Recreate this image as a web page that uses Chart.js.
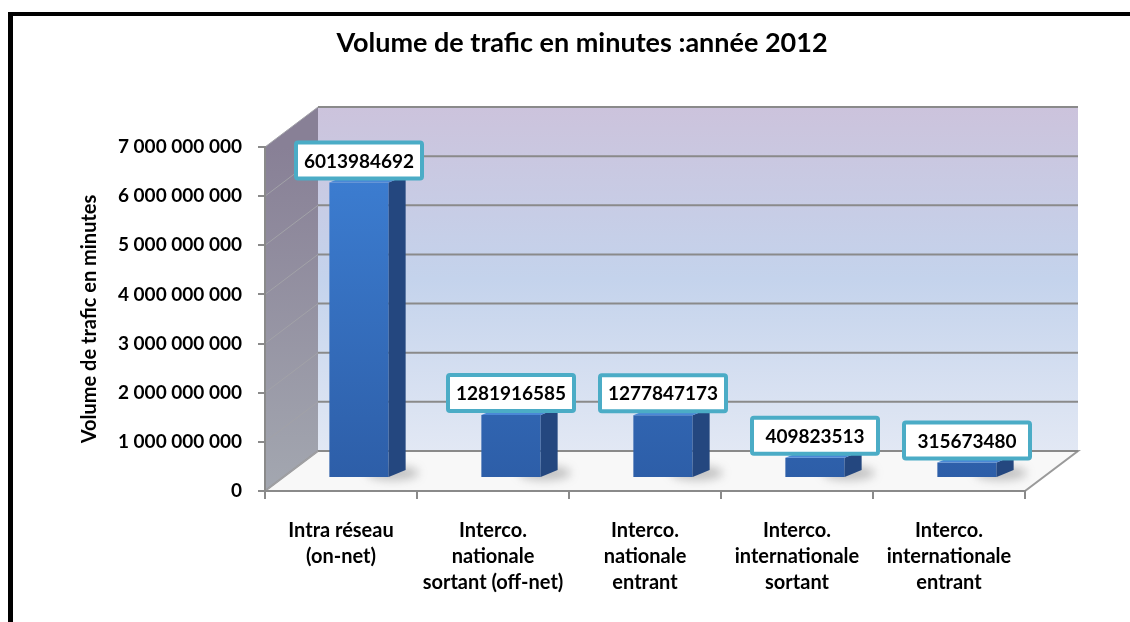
<!DOCTYPE html>
<html>
<head>
<meta charset="utf-8">
<script src="https://cdn.jsdelivr.net/npm/chart.js@4"></script>
<style>
  body { margin: 0; background: #fff; }
  #wrap { position: relative; width: 1130px; height: 622px; }
  #frame { position: absolute; left: 8px; top: 12px; right: 0; bottom: 0;
           border-left: 5px solid #000; border-top: 4px solid #000; pointer-events: none; }
</style>
</head>
<body>
<div id="wrap">
  <canvas id="trafficChart" width="1130" height="622"></canvas>
  <div id="frame"></div>
</div>
<script>
// Data
const categories = [
    ['Intra réseau', '(on-net)'],
    ['Interco.', 'nationale', 'sortant (off-net)'],
    ['Interco.', 'nationale', 'entrant'],
    ['Interco.', 'internationale', 'sortant'],
    ['Interco.', 'internationale', 'entrant']
];
const minutes = [6013984692, 1281916585, 1277847173, 409823513, 315673480];
const yTicks = [0, 1000000000, 2000000000, 3000000000, 4000000000, 5000000000, 6000000000, 7000000000];

const FONT = 'Lato, "Open Sans", sans-serif';
// depth of the 3D box (back wall offset) and of the bars
const DEPTH_X = 53, DEPTH_Y = -40;
const BAR_X = 18, BAR_Y = -13;
const SIDE_X = 17, SIDE_Y = -7;

function spaced(n) {
    return String(n).replace(/\B(?=(\d{3})+(?!\d))/g, ' ');
}

// back wall, side wall, floor and gridlines
const box3d = {
    id: 'box3d',
    beforeDraw(chart) {
        const { ctx, chartArea: a, scales: { y } } = chart;
        const top = y.getPixelForValue(yTicks[yTicks.length - 1]);
        const bot = y.getPixelForValue(0);
        ctx.save();

        // back wall
        let g = ctx.createLinearGradient(0, top + DEPTH_Y, 0, bot + DEPTH_Y);
        g.addColorStop(0, '#ccc3dc');
        g.addColorStop(0.5, '#c4d3ec');
        g.addColorStop(1, '#e2e8f4');
        ctx.fillStyle = g;
        ctx.fillRect(a.left + DEPTH_X, top + DEPTH_Y, a.right - a.left, bot - top);

        // left side wall
        g = ctx.createLinearGradient(0, top, 0, bot);
        g.addColorStop(0, '#888096');
        g.addColorStop(1, '#a3a7b0');
        ctx.fillStyle = g;
        ctx.beginPath();
        ctx.moveTo(a.left, bot);
        ctx.lineTo(a.left, top);
        ctx.lineTo(a.left + DEPTH_X, top + DEPTH_Y);
        ctx.lineTo(a.left + DEPTH_X, bot + DEPTH_Y);
        ctx.closePath();
        ctx.fill();

        // floor
        ctx.fillStyle = '#f8f8f8';
        ctx.strokeStyle = '#9a9a9a';
        ctx.lineWidth = 2;
        ctx.beginPath();
        ctx.moveTo(a.left, bot);
        ctx.lineTo(a.right, bot);
        ctx.lineTo(a.right + DEPTH_X, bot + DEPTH_Y);
        ctx.lineTo(a.left + DEPTH_X, bot + DEPTH_Y);
        ctx.closePath();
        ctx.fill();
        ctx.stroke();

        // gridlines
        yTicks.forEach(v => {
            const py = y.getPixelForValue(v);
            ctx.strokeStyle = '#a2a2a8';
            ctx.lineWidth = 1;
            ctx.beginPath();
            ctx.moveTo(a.left, py);
            ctx.lineTo(a.left + DEPTH_X, py + DEPTH_Y);
            ctx.stroke();
            ctx.strokeStyle = '#8a8a8a';
            ctx.lineWidth = 2;
            ctx.beginPath();
            ctx.moveTo(a.left + DEPTH_X, py + DEPTH_Y);
            ctx.lineTo(a.right + DEPTH_X, py + DEPTH_Y);
            ctx.stroke();
        });
        ctx.restore();
    },
    beforeDatasetsDraw(chart) {
        const ctx = chart.ctx;
        ctx.save();
        ctx.translate(BAR_X, BAR_Y);
        // soft shadow of each bar on the floor
        ctx.save();
        ctx.filter = 'blur(5px)';
        ctx.fillStyle = 'rgba(90, 90, 90, 0.35)';
        chart.getDatasetMeta(0).data.forEach(bar => {
            const right = bar.x + bar.width / 2;
            ctx.beginPath();
            ctx.ellipse(right + 4, bar.base - 4, 26, 7, 0, 0, Math.PI * 2);
            ctx.fill();
        });
        ctx.restore();
    },
    afterDatasetsDraw(chart) {
        const ctx = chart.ctx;
        const bars = chart.getDatasetMeta(0).data;
        bars.forEach(bar => {
            const left = bar.x - bar.width / 2, right = bar.x + bar.width / 2;
            // side face
            ctx.fillStyle = '#24477f';
            ctx.beginPath();
            ctx.moveTo(right, bar.y);
            ctx.lineTo(right + SIDE_X, bar.y + SIDE_Y);
            ctx.lineTo(right + SIDE_X, bar.base + SIDE_Y);
            ctx.lineTo(right, bar.base);
            ctx.closePath();
            ctx.fill();
            // top face
            ctx.fillStyle = '#4a88d6';
            ctx.beginPath();
            ctx.moveTo(left, bar.y);
            ctx.lineTo(left + SIDE_X, bar.y + SIDE_Y);
            ctx.lineTo(right + SIDE_X, bar.y + SIDE_Y);
            ctx.lineTo(right, bar.y);
            ctx.closePath();
            ctx.fill();
        });
        ctx.restore();

        // value labels in framed boxes
        ctx.save();
        ctx.font = 'bold 19px ' + FONT;
        ctx.textAlign = 'center';
        ctx.textBaseline = 'middle';
        bars.forEach((bar, i) => {
            const cx = bar.x + BAR_X;
            const bottom = bar.y + BAR_Y - 4;
            const w = 126, h = 36;
            ctx.fillStyle = '#fff';
            ctx.strokeStyle = '#4bacc6';
            ctx.lineWidth = 4;
            ctx.beginPath();
            ctx.roundRect(cx - w / 2, bottom - h, w, h, 2);
            ctx.fill();
            ctx.stroke();
            ctx.fillStyle = '#000';
            ctx.fillText(String(minutes[i]), cx, bottom - h / 2 + 1);
        });
        ctx.restore();
    }
};

const trafficChart = new Chart(document.getElementById('trafficChart'), {
    type: 'bar',
    data: {
        labels: categories,
        datasets: [{
            label: 'Volume de trafic en minutes',
            data: minutes,
            backgroundColor: function(context) {
                const { ctx, chartArea } = context.chart;
                if (!chartArea) return '#3a78c9';
                const g = ctx.createLinearGradient(0, chartArea.top, 0, chartArea.bottom);
                g.addColorStop(0, '#3e81d6');
                g.addColorStop(1, '#2d5ea8');
                return g;
            },
            borderWidth: 0,
            categoryPercentage: 1,
            barPercentage: 0.39
        }]
    },
    options: {
        responsive: false,
        animation: false,
        layout: { padding: { left: 34, right: 0, top: 0, bottom: 0 } },
        plugins: {
            legend: { display: false },
            tooltip: { enabled: false },
            title: {
                display: true,
                text: 'Volume de trafic en minutes :année 2012',
                color: '#000',
                font: { family: FONT, size: 27, weight: 'bold' },
                padding: { top: 27, bottom: 87.6 }
            }
        },
        scales: {
            x: {
                afterFit(scale) { scale.height = 131; },
                grid: {
                    offset: true,
                    drawOnChartArea: false,
                    color: '#8a8a8a',
                    lineWidth: 2,
                    tickLength: 8
                },
                border: { color: '#8a8a8a', width: 2 },
                ticks: {
                    color: '#000',
                    padding: 19,
                    font: { family: FONT, size: 20, weight: 'bold', lineHeight: 1.3 }
                }
            },
            y: {
                min: 0,
                max: 7000000000,
                afterFit(scale) { scale.width = 231; },
                afterBuildTicks(scale) { scale.ticks = yTicks.map(v => ({ value: v })); },
                grid: {
                    drawOnChartArea: false,
                    color: '#8a8a8a',
                    lineWidth: 2,
                    tickLength: 7
                },
                border: { color: '#8a8a8a', width: 2 },
                ticks: {
                    color: '#000',
                    padding: 16,
                    font: { family: FONT, size: 19, weight: 'bold' },
                    callback: value => spaced(value)
                },
                title: {
                    display: true,
                    text: 'Volume de trafic en minutes',
                    color: '#000',
                    font: { family: FONT, size: 20, weight: 'bold' },
                    padding: { top: 44, bottom: 0 }
                }
            },
            // keeps the plot clear of the right side, like the 3D box in the original
            spacer: {
                position: 'right',
                min: 0,
                max: 1,
                afterFit(scale) { scale.width = 105; },
                grid: { display: false },
                border: { display: false },
                ticks: { display: false }
            }
        }
    },
    plugins: [box3d]
});
</script>
</body>
</html>
